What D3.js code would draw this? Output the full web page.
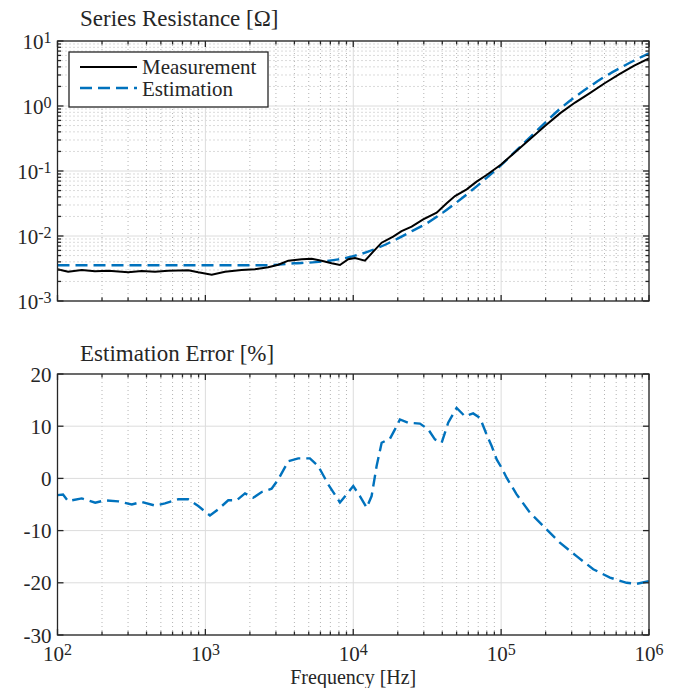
<!DOCTYPE html>
<html>
<head>
<meta charset="utf-8">
<script src="https://cdn.jsdelivr.net/npm/d3@7"></script>
<style>
  body { margin: 0; background: #fff; }
  text { font-family: "Liberation Serif", "Times New Roman", serif; fill: #262626; }
</style>
</head>
<body>
<svg id="chart" width="684" height="688"></svg>
<script>
// measured series resistance [ohm]
const measFreq = [100, 118, 146, 179, 221, 301, 371, 456, 561, 766,
  895, 1104, 1358, 1758, 2163, 2661, 3112, 3639, 4477, 5236,
  6109, 7145, 8128, 9247, 10280, 12000, 13650, 15560, 18620, 21230,
  24830, 29720, 36640, 42850, 48750, 58480, 68230, 79800, 100000, 125900,
  158500, 199500, 251200, 316200, 398100, 501200, 631000, 794300, 1000000];
const measR = [3.08e-3, 2.82e-3, 3.00e-3, 2.86e-3, 2.92e-3, 2.76e-3, 2.90e-3, 2.82e-3, 2.92e-3, 2.96e-3,
  2.76e-3, 2.54e-3, 2.82e-3, 3.00e-3, 3.08e-3, 3.30e-3, 3.62e-3, 4.17e-3, 4.39e-3, 4.48e-3,
  4.17e-3, 3.80e-3, 3.58e-3, 4.39e-3, 4.59e-3, 4.17e-3, 5.74e-3, 7.89e-3, 9.77e-3, 1.19e-2,
  1.39e-2, 1.80e-2, 2.29e-2, 3.18e-2, 4.12e-2, 5.22e-2, 6.85e-2, 8.67e-2, 0.126, 0.20,
  0.316, 0.50, 0.776, 1.13, 1.58, 2.24, 3.09, 4.17, 5.42];

// estimated series resistance [ohm]
const estFreq = [100, 1000, 2512, 3162, 3981, 5012, 6310, 7943, 10000,
  12590, 15850, 19950, 25120, 31620, 39810, 50120, 63100, 79430, 100000,
  125900, 158500, 199500, 251200, 316200, 398100, 501200, 631000, 794300, 1000000];
const estR = [3.55e-3, 3.55e-3, 3.55e-3, 3.63e-3, 3.80e-3, 3.89e-3, 4.07e-3, 4.37e-3, 4.90e-3,
  5.75e-3, 7.08e-3, 9.12e-3, 1.20e-2, 1.58e-2, 2.24e-2, 3.31e-2, 5.01e-2, 7.76e-2, 0.123,
  0.204, 0.339, 0.562, 0.912, 1.38, 2.00, 2.82, 3.80, 5.01, 6.46];

// estimation error [%]
const errFreq = [100, 109, 118, 146, 180, 209, 258, 318, 371, 456,
  533, 656, 766, 895, 1074, 1223, 1428, 1629, 1854, 2110,
  2404, 2805, 3112, 3639, 4246, 5093, 5795, 6776, 8128, 9016,
  10000, 11090, 12330, 13310, 14390, 15560, 17700, 19140, 20700, 23550,
  28250, 32140, 35650, 39630, 43850, 50000, 56880, 64710, 71920, 79800,
  86300, 93300, 100700, 108900, 127300, 156700, 197700, 249500, 323600, 419800,
  544500, 706300, 824200, 1000000];
const errPct = [-3.2, -3.1, -4.35, -3.83, -4.66, -4.2, -4.4, -5.0, -4.5, -5.2,
  -4.8, -4.0, -4.0, -5.3, -7.1, -5.9, -4.2, -4.2, -2.87, -3.7,
  -2.6, -1.98, -0.19, 3.3, 3.83, 3.83, 2.36, -1.15, -4.6, -3.07,
  -1.47, -3.38, -5.6, -3.38, 2.36, 6.83, 7.6, 9.39, 11.3, 10.67,
  10.5, 9.39, 7.47, 6.83, 10.67, 13.5, 11.9, 12.45, 11.6, 8.4,
  6.2, 3.64, 2.04, 0.13, -3.07, -6.57, -9.45, -12.3, -14.9, -17.4,
  -19.0, -20.0, -20.2, -19.7];

// ticks
const freqTicks = [1e2, 1e3, 1e4, 1e5, 1e6];
const resTicks = [1e-3, 1e-2, 1e-1, 1e0, 1e1];
const errTicks = [-30, -20, -10, 0, 10, 20];

const svg = d3.select('#chart');
const left = 57.5;
const right = 649;
const width = right - left;
const blue = '#0072BD';
const axisColor = '#262626';

// minor values between decades
function minors(lo, hi) {
  const out = [];
  for (let e = lo; e < hi; e += 1) {
    for (let m = 2; m <= 9; m += 1) out.push(m * Math.pow(10, e));
  }
  return out;
}

const x = d3.scaleLog().domain([1e2, 1e6]).range([0, width]);
const xMinor = minors(2, 6);

// draws grid lines behind the data
function drawGrid(g, h, y, yMajor, yMinor) {
  const grid = g.append('g');
  grid.selectAll('.xmin').data(xMinor).enter().append('line')
    .attr('x1', d => x(d)).attr('x2', d => x(d))
    .attr('y1', 0).attr('y2', h)
    .attr('stroke', '#b4b4b4').attr('stroke-dasharray', '1,3');
  if (yMinor) {
    grid.selectAll('.ymin').data(yMinor).enter().append('line')
      .attr('x1', 0).attr('x2', width)
      .attr('y1', d => y(d)).attr('y2', d => y(d))
      .attr('stroke', '#b4b4b4').attr('stroke-dasharray', '1,3');
  }
  grid.selectAll('.xmaj').data(freqTicks).enter().append('line')
    .attr('x1', d => x(d)).attr('x2', d => x(d))
    .attr('y1', 0).attr('y2', h)
    .attr('stroke', '#dcdcdc');
  grid.selectAll('.ymaj').data(yMajor).enter().append('line')
    .attr('x1', 0).attr('x2', width)
    .attr('y1', d => y(d)).attr('y2', d => y(d))
    .attr('stroke', '#dcdcdc');
}

// box with inward ticks on all four sides
function drawFrame(g, h, y, yMajor, yMinor) {
  const f = g.append('g').attr('stroke', axisColor).attr('stroke-width', 1.3);
  const tick = (x1, y1, x2, y2) => f.append('line')
    .attr('x1', x1).attr('y1', y1).attr('x2', x2).attr('y2', y2);
  freqTicks.forEach((d) => { tick(x(d), h, x(d), h - 6); tick(x(d), 0, x(d), 6); });
  xMinor.forEach((d) => { tick(x(d), h, x(d), h - 3.5); tick(x(d), 0, x(d), 3.5); });
  yMajor.forEach((d) => { tick(0, y(d), 6, y(d)); tick(width, y(d), width - 6, y(d)); });
  (yMinor || []).forEach((d) => { tick(0, y(d), 3.5, y(d)); tick(width, y(d), width - 3.5, y(d)); });
  f.append('rect')
    .attr('width', width).attr('height', h)
    .attr('fill', 'none');
}

// "10^n" label with a raised exponent
function powerLabel(sel, d) {
  const e = Math.round(Math.log10(d));
  sel.append('tspan').text('10');
  sel.append('tspan').attr('dy', -6).style('font-size', '16px').text(e);
}

// ---------- top panel: series resistance ----------
const top1 = 41;
const h1 = 301 - top1;
const g1 = svg.append('g').attr('transform', `translate(${left},${top1})`);
const y1 = d3.scaleLog().domain([1e-3, 1e1]).range([h1, 0]);
const y1Minor = minors(-3, 1);

drawGrid(g1, h1, y1, resTicks, y1Minor);

g1.append('clipPath').attr('id', 'clip1')
  .append('rect').attr('width', width).attr('height', h1);

const line1 = d3.line().x(d => x(d[0])).y(d => y1(d[1]));

g1.append('path')
  .datum(estFreq.map((f, i) => [f, estR[i]]))
  .attr('clip-path', 'url(#clip1)')
  .attr('d', line1.curve(d3.curveMonotoneX))
  .attr('fill', 'none')
  .attr('stroke', blue)
  .attr('stroke-width', 2.4)
  .attr('stroke-dasharray', '12,6');

g1.append('path')
  .datum(measFreq.map((f, i) => [f, measR[i]]))
  .attr('clip-path', 'url(#clip1)')
  .attr('d', d3.line().x(d => x(d[0])).y(d => y1(d[1])))
  .attr('fill', 'none')
  .attr('stroke', '#000')
  .attr('stroke-width', 2);

drawFrame(g1, h1, y1, resTicks, y1Minor);

g1.selectAll('.ylab').data(resTicks).enter().append('text')
  .attr('x', -6)
  .attr('y', d => y1(d) + 7.5)
  .attr('text-anchor', 'end')
  .style('font-size', '21px')
  .each(function label(d) { powerLabel(d3.select(this), d); });

svg.append('text')
  .attr('x', 80).attr('y', 26)
  .style('font-size', '23px')
  .text('Series Resistance [Ω]');

// legend
const leg = svg.append('g').attr('transform', 'translate(69,52)');
leg.append('rect')
  .attr('width', 199).attr('height', 55)
  .attr('fill', '#fff')
  .attr('stroke', axisColor)
  .attr('stroke-width', 1.3);
leg.append('line')
  .attr('x1', 11).attr('x2', 68).attr('y1', 15).attr('y2', 15)
  .attr('stroke', '#000').attr('stroke-width', 2);
leg.append('line')
  .attr('x1', 11).attr('x2', 68).attr('y1', 36).attr('y2', 36)
  .attr('stroke', blue).attr('stroke-width', 2.4).attr('stroke-dasharray', '12,6');
leg.append('text').attr('x', 73).attr('y', 22).style('font-size', '21px').text('Measurement');
leg.append('text').attr('x', 73).attr('y', 44).style('font-size', '21px').text('Estimation');

// ---------- bottom panel: estimation error ----------
const top2 = 374;
const h2 = 635 - top2;
const g2 = svg.append('g').attr('transform', `translate(${left},${top2})`);
const y2 = d3.scaleLinear().domain([-30, 20]).range([h2, 0]);

drawGrid(g2, h2, y2, errTicks, null);

g2.append('clipPath').attr('id', 'clip2')
  .append('rect').attr('width', width).attr('height', h2);

g2.append('path')
  .datum(errFreq.map((f, i) => [f, errPct[i]]))
  .attr('clip-path', 'url(#clip2)')
  .attr('d', d3.line().x(d => x(d[0])).y(d => y2(d[1])))
  .attr('fill', 'none')
  .attr('stroke', blue)
  .attr('stroke-width', 2.4)
  .attr('stroke-dasharray', '12,6');

drawFrame(g2, h2, y2, errTicks, null);

g2.selectAll('.ylab').data(errTicks).enter().append('text')
  .attr('x', -6)
  .attr('y', d => y2(d) + 7.5)
  .attr('text-anchor', 'end')
  .style('font-size', '21px')
  .text(d => d);

g2.selectAll('.xlab').data(freqTicks).enter().append('text')
  .attr('x', d => x(d))
  .attr('y', h2 + 26)
  .attr('text-anchor', 'middle')
  .style('font-size', '21px')
  .each(function label(d) { powerLabel(d3.select(this), d); });

svg.append('text')
  .attr('x', 80).attr('y', 361)
  .style('font-size', '23px')
  .text('Estimation Error [%]');

svg.append('text')
  .attr('x', left + width / 2).attr('y', 684)
  .attr('text-anchor', 'middle')
  .style('font-size', '20px')
  .text('Frequency [Hz]');
</script>
</body>
</html>
